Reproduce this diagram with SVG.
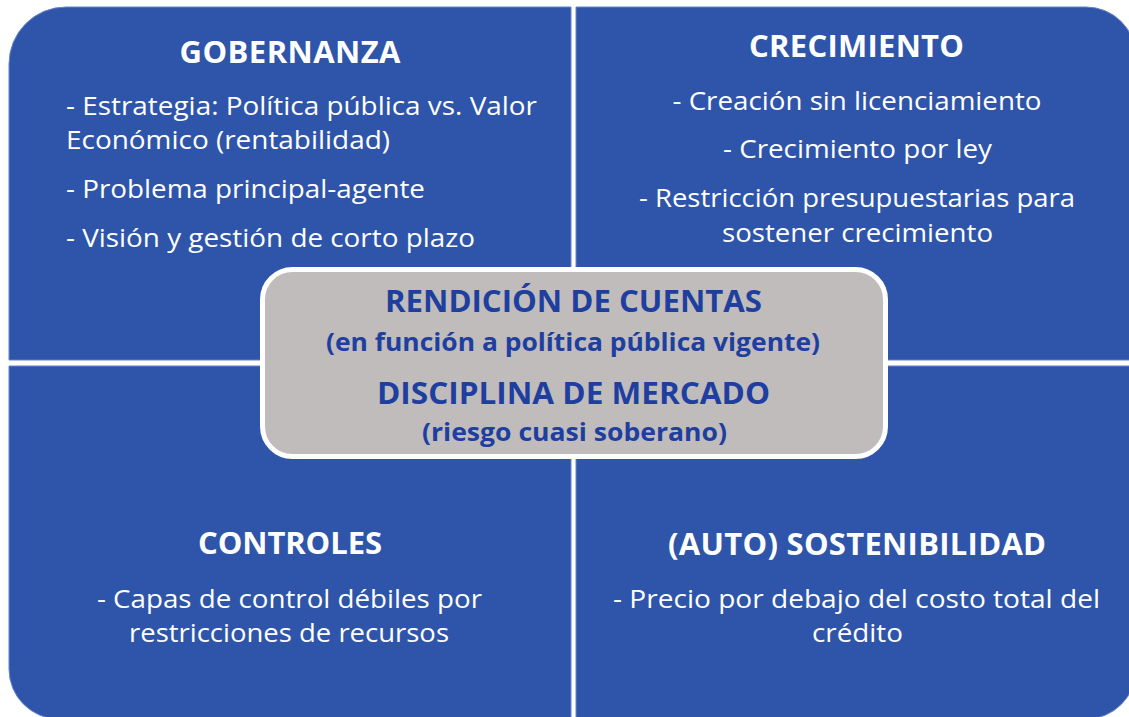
<svg xmlns="http://www.w3.org/2000/svg" width="1129" height="717" viewBox="0 0 1129 717">
  <style>
    .quad { fill: #2E55A9; stroke: #6585C8; stroke-width: 1; }
    .head { font-family: "Open Sans", "Liberation Sans", sans-serif; font-weight: 700; font-size: 31px; fill: #FFFFFF; }
    .body { font-family: "Open Sans", "Liberation Sans", sans-serif; font-size: 26px; fill: #FFFFFF; }
    .chead { font-family: "Open Sans", "Liberation Sans", sans-serif; font-weight: 700; font-size: 30px; fill: #1E3FA0; }
    .csub { font-family: "Open Sans", "Liberation Sans", sans-serif; font-weight: 700; font-size: 25px; fill: #1E3FA0; }
    .mid { text-anchor: middle; }
  </style>
  <rect width="1129" height="717" fill="#FFFFFF"/>

  <g id="gobernanza">
    <path class="quad" d="M9,64 A57,57 0 0 1 66,7 L571,7 L571,360 L9,360 Z"/>
    <text class="head mid" x="290" y="63" textLength="221">GOBERNANZA</text>
    <text class="body" x="66" y="115" textLength="471" lengthAdjust="spacingAndGlyphs">- Estrategia: Política pública vs. Valor</text>
    <text class="body" x="66" y="149" textLength="324" lengthAdjust="spacingAndGlyphs">Económico (rentabilidad)</text>
    <text class="body" x="66" y="198" textLength="359" lengthAdjust="spacingAndGlyphs">- Problema principal-agente</text>
    <text class="body" x="66" y="247" textLength="409" lengthAdjust="spacingAndGlyphs">- Visión y gestión de corto plazo</text>
  </g>

  <g id="crecimiento">
    <path class="quad" d="M576,7 L1086,7 A50,50 0 0 1 1136,57 L1136,360 L576,360 Z"/>
    <text class="head mid" x="856.5" y="57" textLength="215">CRECIMIENTO</text>
    <text class="body mid" x="857" y="110" textLength="369" lengthAdjust="spacingAndGlyphs">- Creación sin licenciamiento</text>
    <text class="body mid" x="857.5" y="158" textLength="269" lengthAdjust="spacingAndGlyphs">- Crecimiento por ley</text>
    <text class="body mid" x="857" y="207" textLength="436" lengthAdjust="spacingAndGlyphs">- Restricción presupuestarias para</text>
    <text class="body mid" x="857.5" y="242" textLength="271" lengthAdjust="spacingAndGlyphs">sostener crecimiento</text>
  </g>

  <g id="controles">
    <path class="quad" d="M9,366 L571,366 L571,719 L59,719 A50,50 0 0 1 9,669 Z"/>
    <text class="head mid" x="290" y="554" textLength="184">CONTROLES</text>
    <text class="body mid" x="289.5" y="608" textLength="385" lengthAdjust="spacingAndGlyphs">- Capas de control débiles por</text>
    <text class="body mid" x="289" y="642" textLength="320" lengthAdjust="spacingAndGlyphs">restricciones de recursos</text>
  </g>

  <g id="sostenibilidad">
    <path class="quad" d="M576,366 L1136,366 L1136,669 A50,50 0 0 1 1086,719 L576,719 Z"/>
    <text class="head mid" x="857" y="555" textLength="378">(AUTO) SOSTENIBILIDAD</text>
    <text class="body mid" x="856.5" y="608" textLength="487" lengthAdjust="spacingAndGlyphs">- Precio por debajo del costo total del</text>
    <text class="body mid" x="857.5" y="642" textLength="91" lengthAdjust="spacingAndGlyphs">crédito</text>
  </g>

  <g id="centro">
    <rect x="262.5" y="269.5" width="623" height="187" rx="30" ry="30" fill="#C0BCBB" stroke="#FFFFFF" stroke-width="5"/>
    <text class="chead mid" x="573.5" y="312" textLength="377" lengthAdjust="spacingAndGlyphs">RENDICIÓN DE CUENTAS</text>
    <text class="csub mid" x="573" y="351" textLength="494" lengthAdjust="spacingAndGlyphs">(en función a política pública vigente)</text>
    <text class="chead mid" x="573.5" y="404" textLength="393" lengthAdjust="spacingAndGlyphs">DISCIPLINA DE MERCADO</text>
    <text class="csub mid" x="574.5" y="441" textLength="305" lengthAdjust="spacingAndGlyphs">(riesgo cuasi soberano)</text>
  </g>

  <g id="connectors"></g>
</svg>
